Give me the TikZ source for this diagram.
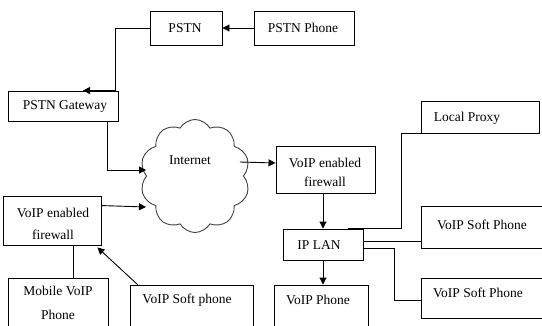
\documentclass[tikz,border=0pt]{standalone}
\usepackage{fontspec}
\setmainfont{Liberation Serif}
\usetikzlibrary{arrows.meta,shapes.symbols,calc}
\begin{document}
\begin{tikzpicture}[x=1pt,y=-1pt,
  box/.style={draw,line width=0.9pt,rectangle,inner sep=0pt},
  lbl/.style={font=\fontsize{13.5}{15}\selectfont,inner sep=0pt,align=center},
  conn/.style={line width=0.9pt},
  arr/.style={line width=0.9pt,-{Triangle[length=7pt,width=7pt]}}]
\path[use as bounding box] (0,0) rectangle (542,325);
\clip (0,0) rectangle (542,325);
% boxes
\node[box,minimum width=72pt,minimum height=34pt] (pstn) at (186,28) {};
\node[box,minimum width=100pt,minimum height=34pt] (pphone) at (304,28) {};
\node[box,minimum width=110pt,minimum height=30pt] (gw) at (63,106) {};
\node[box,minimum width=99pt,minimum height=47pt] (fw2) at (325.5,169.5) {};
\node[box,minimum width=80pt,minimum height=31pt] (lan) at (323,244.5) {};
\node[box,minimum width=118pt,minimum height=32pt] (lp) at (480,117) {};
\node[box,minimum width=124pt,minimum height=42pt] (sp1) at (483,227) {};
\node[box,minimum width=124pt,minimum height=40pt] (sp2) at (483,298) {};
\node[box,minimum width=94pt,minimum height=50pt] (vp) at (321,310) {};
\node[box,minimum width=98pt,minimum height=49pt] (fw1) at (52,220.5) {};
\node[box,minimum width=100pt,minimum height=57pt] (mob) at (58,306.5) {};
\node[box,minimum width=123pt,minimum height=50pt] (sp3) at (191.5,310) {};
\node[cloud,draw=black!75,line width=0.9pt,cloud puffs=10,cloud puff arc=120,aspect=1,
  minimum width=110pt,minimum height=113pt,inner sep=0pt] (net) at (195,176) {};
% labels
\node[lbl] at (185,28) {PSTN};
\node[lbl] at (303,28) {PSTN Phone};
\node[lbl] at (65,106) {PSTN Gateway};
\node[lbl] at (190,160) {Internet};
\node[lbl] at (325,163) {VoIP enabled};
\node[lbl] at (325,182) {firewall};
\node[lbl] at (319,245) {IP LAN};
\node[lbl] at (467,118) {Local Proxy};
\node[lbl] at (482,225) {VoIP Soft Phone};
\node[lbl] at (478,293) {VoIP Soft Phone};
\node[lbl] at (318,300) {VoIP Phone};
\node[lbl] at (53,213) {VoIP enabled};
\node[lbl] at (53,235) {firewall};
\node[lbl] at (58,291) {Mobile VoIP};
\node[lbl] at (58,315) {Phone};
\node[lbl] at (187,300) {VoIP Soft phone};
% connectors
\draw[arr] (pphone.west) -- (pstn.east);
\draw[arr] (pstn.west) -| ($(gw.north east)+(-3,0)$) -- ($(gw.north)+(20,0)$);
\draw[arr] ($(gw.south east)+(-11,0)$) |- ($(net.west)+(0,-6)$);
\draw[arr] ($(fw1.north east)+(0,10)$) -- ($(net.west)+(0,31)$);
\draw[conn] ($(fw1.south)+(21,0)$) -- ($(mob.north)+(15,0)$);
\draw[arr] ($(sp3.north west)+(8,0)$) -- ($(fw1.south east)+(-4,2)$);
\draw[arr] ($(net.east)+(-4,-14)$) -- ($(fw2.west)+(0,-6.5)$);
\draw[arr] (lan.north |- fw2.south) -- (lan.north);
\draw[conn] ($(lan.north east)+(-15,0)$) -| ($(lp.south west)+(-19,0)$) -- (lp.south west);
\draw[conn] ($(lan.east)+(0,-3.5)$) -- (sp1.west |- {$(lan.east)+(0,-3.5)$});
\draw[conn] ($(lan.east)+(0,3.5)$) -- ($(lan.east)+(31,3.5)$) |- ($(sp2.west)+(0,2)$);
\draw[arr] (lan.south) -- (lan.south |- vp.north);
\end{tikzpicture}
\end{document}
